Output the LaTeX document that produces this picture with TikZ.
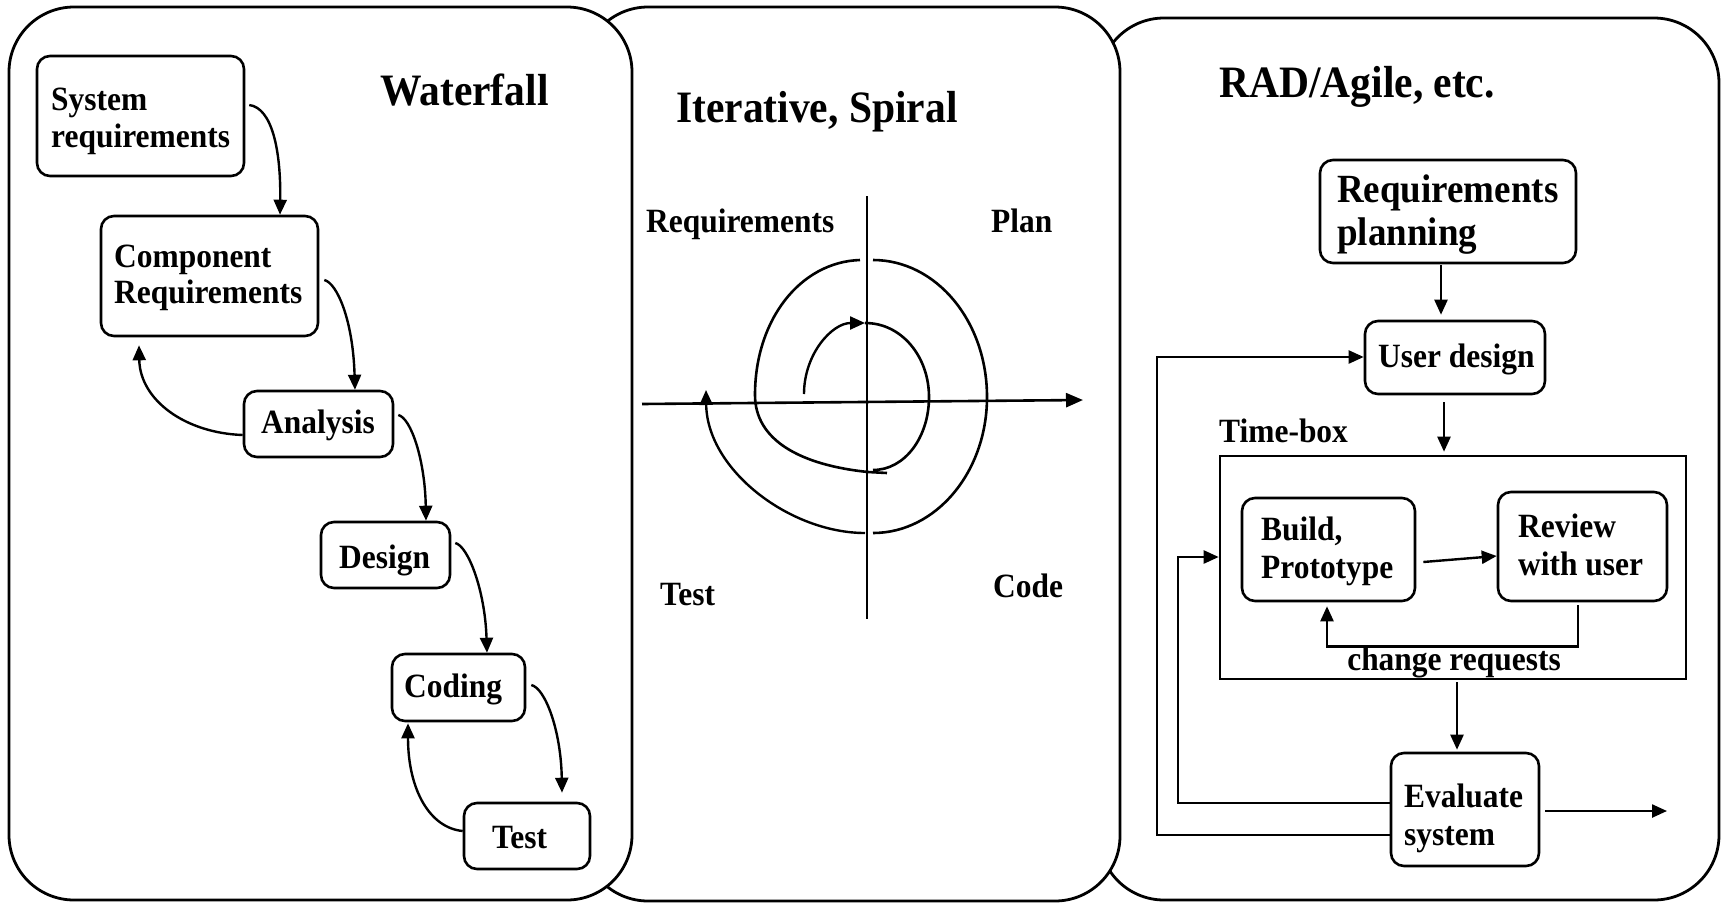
\documentclass[tikz,border=0pt]{standalone}
\usepackage{fontspec}
\setmainfont[FakeStretch=0.925]{Liberation Serif}
\usetikzlibrary{calc,arrows.meta}
\begin{document}
\begin{tikzpicture}[x=1pt,y=-1pt,
  panel/.style={draw, fill=white, line width=2.8pt, rounded corners=65pt},
  wbox/.style={draw, line width=2.6pt, rounded corners=13pt, inner sep=0pt, fill=white},
  lbl/.style={font=\fontsize{34}{40}\selectfont\bfseries, inner sep=0pt, anchor=base west},
  big/.style={font=\fontsize{40}{46}\selectfont\bfseries, inner sep=0pt, anchor=base west},
  ttl/.style={font=\fontsize{44.9}{52}\selectfont\bfseries, inner sep=0pt, anchor=base west},
  arr/.style={line width=2.4pt, -{Triangle[length=15pt,width=13pt]}},
  ln/.style={line width=2.6pt}
]
\useasboundingbox (0,0) rectangle (1722,903);

% panels (back to front)
\draw[panel] (1099,18) rectangle (1719,900);
\draw[panel] (583,7) rectangle (1120,901);
\draw[panel] (9,7) rectangle (632,900);

% ---------------- Waterfall ----------------
\node[ttl] (wfT) at (380,105) {Waterfall};
\node[wbox, minimum width=207pt, minimum height=120pt] (sys) at (140.5,116) {};
\node[lbl] (sysT1) at (51,110) {System};
\node[lbl] (sysT2) at (51,147) {requirements};
\node[wbox, minimum width=217pt, minimum height=120pt] (comp) at (209.5,276) {};
\node[lbl] (compT1) at (114,267) {Component};
\node[lbl] (compT2) at (114,303) {Requirements};
\node[wbox, minimum width=149pt, minimum height=66pt] (ana) at (318.5,424) {};
\node[lbl] (anaT) at (261,433) {Analysis};
\node[wbox, minimum width=129pt, minimum height=66pt] (des) at (385.5,555) {};
\node[lbl] (desT) at (339,568) {Design};
\node[wbox, minimum width=133pt, minimum height=67pt] (cod) at (458.5,687.5) {};
\node[lbl] (codT) at (404,697) {Coding};
\node[wbox, minimum width=126pt, minimum height=66pt] (tst) at (527,836) {};
\node[lbl] (tstT) at (492,848) {Test};

\draw[arr] ($(sys.east)+(4,-11)$) .. controls (272,108) and (281,150) .. ($(comp.north)+(70.5,0)$);
\draw[arr] ($(comp.east)+(5,4)$) .. controls (337,283) and (353,320) .. ($(ana.north)+(36.5,0)$);
\draw[arr] ($(ana.west)+(0,11)$) .. controls (185,433) and (140,400) .. ($(comp.south)+(-70.5,8)$);
\draw[arr] ($(ana.east)+(4,-9)$) .. controls (411,418) and (425,460) .. ($(des.north)+(40.5,0)$);
\draw[arr] ($(des.east)+(4,-12)$) .. controls (468,546) and (485,590) .. ($(cod.north)+(28.5,0)$);
\draw[arr] ($(cod.east)+(5,-2.5)$) .. controls (545,688) and (561,730) .. ($(tst.north)+(35,-9)$);
\draw[arr] ($(tst.west)+(0,-5)$) .. controls (430,828) and (408,790) .. ($(cod.south)+(-50.5,1)$);

% ---------------- Iterative, Spiral ----------------
\node[ttl] (itT) at (676,122) {Iterative, Spiral};
\node[lbl] (sReq) at (646,232) {Requirements};
\node[lbl] (sPlan) at (991,232) {Plan};
\node[lbl] (sTest) at (660,605) {Test};
\node[lbl] (sCode) at (993,597) {Code};

\draw[ln] (867,196) -- (867,619);
\draw[ln, -{Triangle[length=17pt,width=14pt]}] (642,404) -- (1083,400);
\draw[arr] (804,394) .. controls (804,354) and (832,323) .. (865,323);
\draw[ln] (865,323) .. controls (902,323) and (929,357) .. (929,397) .. controls (929,437) and (905,470) .. (873,470);
\draw[ln] (887,473) -- (868,472) .. controls (800,465) and (755,440) .. (755,395) .. controls (755,320) and (800,262) .. (860,260);
\draw[ln] (873,260) .. controls (936,260) and (987,321) .. (987,397) .. controls (987,472) and (936,533) .. (873,533);
\draw[arr] (865,533) .. controls (790,533) and (707,470) .. (706,390);

% ---------------- RAD/Agile ----------------
\node[ttl] (radT) at (1219,97) {RAD/Agile, etc.};
\node[wbox, minimum width=256pt, minimum height=103pt] (rp) at (1448,211.5) {};
\node[big] (rpT1) at (1337,202) {Requirements};
\node[big] (rpT2) at (1337,245) {planning};
\node[wbox, minimum width=180pt, minimum height=73pt] (ud) at (1455,357.5) {};
\node[lbl] (udT) at (1378,367) {User design};
\node[lbl] (tbT) at (1219,442) {Time-box};
\node[draw, line width=2.6pt, minimum width=466pt, minimum height=223pt, inner sep=0pt] (tb) at (1453,567.5) {};
\node[wbox, minimum width=173pt, minimum height=103pt] (bp) at (1328.5,549.5) {};
\node[lbl] (bpT1) at (1261,540) {Build,};
\node[lbl] (bpT2) at (1261,578) {Prototype};
\node[wbox, minimum width=169pt, minimum height=109pt] (rv) at (1582.5,546.5) {};
\node[lbl] (rvT1) at (1518,537) {Review};
\node[lbl] (rvT2) at (1518,575) {with user};
\node[lbl, anchor=base] (crT) at (1454,670) {change requests};
\node[wbox, minimum width=148pt, minimum height=113pt] (ev) at (1465,809.5) {};
\node[lbl] (evT1) at (1404,807) {Evaluate};
\node[lbl] (evT2) at (1404,845) {system};

\coordinate (outE) at (1667,811);
\coordinate (fbA) at (1178,557);
\coordinate (fbB) at (1157,357);

\draw[arr] ($(rp.south)+(-7,1)$) -- ($(ud.north)+(-14,-5)$);
\draw[arr] ($(ud.south)+(-11,7)$) -- ($(tb.north)+(-9,-3)$);
\draw[arr] ($(bp.east)+(7,12.5)$) -- ($(rv.west)+(0,9.5)$);
\draw[arr] ($(rv.south)+(-4.5,3)$) -- ++(0,41) -| ($(bp.south)+(-1.5,4)$);
\draw[arr] ($(tb.south)+(4,2)$) -- ($(ev.north)+(-8,-2)$);
\draw[arr] ($(ev.east)+(5,1.5)$) -- (outE);
\draw[arr] ($(ev.west)+(0,-6.5)$) -| (fbA) -- (tb.west |- fbA);
\draw[arr] ($(ev.west)+(0,25.5)$) -| (fbB) -- (ud.west |- fbB);
\end{tikzpicture}
\end{document}
